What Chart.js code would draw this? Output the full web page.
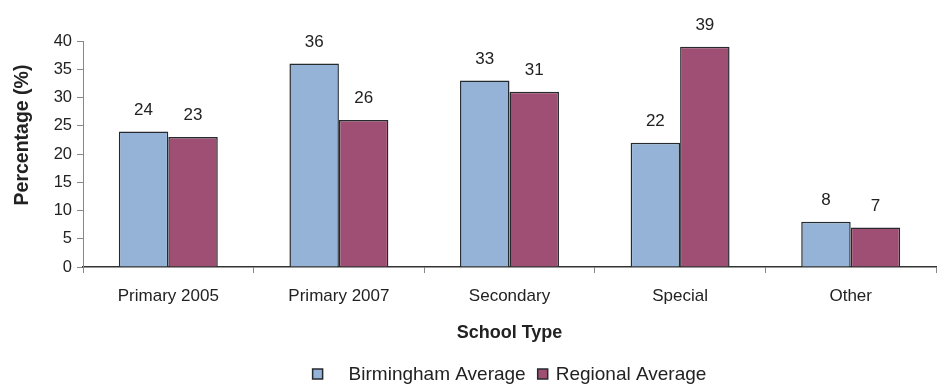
<!DOCTYPE html>
<html>
<head>
<meta charset="utf-8">
<script src="https://cdn.jsdelivr.net/npm/chart.js@4/dist/chart.umd.min.js"></script>
<style>
  html,body{margin:0;padding:0;background:#fff;}
  #wrap{width:939px;height:385px;position:relative;}
</style>
</head>
<body>
<div id="wrap"><canvas id="chart"></canvas></div>
<script>
// data
const categories = ["Primary 2005", "Primary 2007", "Secondary", "Special", "Other"];
const birmingham = [24, 36, 33, 22, 8];
const regional = [23, 26, 31, 39, 7];
const seriesNames = ["Birmingham Average", "Regional Average"];
const seriesColors = ["#95B3D7", "#9F4F73"];
const yMin = 0, yMax = 40, yStep = 5;
const yTitle = "Percentage (%)";
const xTitle = "School Type";

const FONT = "'Liberation Sans', Arial, sans-serif";
const EDGE = "#26292e";

// value labels above each bar
const barLabels = {
  id: "barLabels",
  afterDatasetsDraw(chart){
    const ctx = chart.ctx;
    ctx.save();
    ctx.font = "17px " + FONT;
    ctx.fillStyle = "#222";
    ctx.textAlign = "center";
    ctx.textBaseline = "bottom";
    chart.data.datasets.forEach((ds, i)=>{
      chart.getDatasetMeta(i).data.forEach((bar, j)=>{
        ctx.fillText(ds.data[j], bar.x, bar.y - 13);
      });
    });
    ctx.restore();
  }
};

// y title (sits a bit above the middle) and legend centred under the plot
const extras = {
  id: "extras",
  afterDraw(chart){
    const ctx = chart.ctx, ca = chart.chartArea;
    ctx.save();
    // y title
    ctx.font = "bold 19.5px " + FONT;
    ctx.fillStyle = "#222";
    ctx.textAlign = "center";
    ctx.textBaseline = "middle";
    ctx.translate(23, 135);
    ctx.rotate(-Math.PI/2);
    ctx.fillText(yTitle, 0, 0);
    ctx.setTransform(1,0,0,1,0,0);

    // legend
    ctx.font = "19px " + FONT;
    ctx.textAlign = "left";
    const box = 10, y = 374;
    const w1 = ctx.measureText(seriesNames[0]).width;
    const w2 = ctx.measureText(seriesNames[1]).width;
    const gaps = [26, 12, 8];
    const total = box + gaps[0] + w1 + gaps[1] + box + gaps[2] + w2;
    let x = (ca.left + ca.right)/2 - total/2;
    const items = [[seriesColors[0], seriesNames[0], gaps[0], w1], [seriesColors[1], seriesNames[1], gaps[2], w2]];
    items.forEach((it, k)=>{
      ctx.fillStyle = it[0];
      ctx.fillRect(x, y - box/2, box, box);
      ctx.strokeStyle = EDGE;
      ctx.lineWidth = 1.5;
      ctx.strokeRect(x, y - box/2, box, box);
      x += box + it[2];
      ctx.fillStyle = "#222";
      ctx.fillText(it[1], x, y + 1);
      x += it[3] + gaps[1];
    });
    ctx.restore();
  }
};

new Chart(document.getElementById("chart"), {
  type: "bar",
  data: {
    labels: categories,
    datasets: [
      {label: seriesNames[0], data: birmingham, backgroundColor: seriesColors[0], borderColor: EDGE, borderWidth: 1.5},
      {label: seriesNames[1], data: regional, backgroundColor: seriesColors[1], borderColor: EDGE, borderWidth: 1.5}
    ]
  },
  options: {
    responsive: true,
    maintainAspectRatio: false,
    animation: false,
    categoryPercentage: 0.58,
    barPercentage: 1.0,
    layout: {padding: {top: 41, right: 3, left: 4, bottom: 41}},
    plugins: {
      legend: {display: false},
      tooltip: {enabled: false}
    },
    scales: {
      x: {
        afterFit: s => { s.height = 77; },
        grid: {drawOnChartArea: false, drawTicks: true, tickLength: 6, color: "#888"},
        border: {color: "#333", width: 1.5},
        ticks: {color: "#222", font: {family: FONT, size: 17}, padding: 13},
        title: {display: true, text: xTitle, color: "#222", font: {family: FONT, size: 18, weight: "bold"}, padding: {top: 16, bottom: 0}}
      },
      y: {
        min: yMin, max: yMax,
        afterFit: s => { s.width = 79; },
        grid: {drawOnChartArea: false, drawTicks: true, tickLength: 6, color: "#888"},
        border: {color: "#888", width: 1},
        ticks: {stepSize: yStep, color: "#222", font: {family: FONT, size: 16.5}, padding: 5}
      }
    }
  },
  plugins: [barLabels, extras]
});
</script>
</body>
</html>
